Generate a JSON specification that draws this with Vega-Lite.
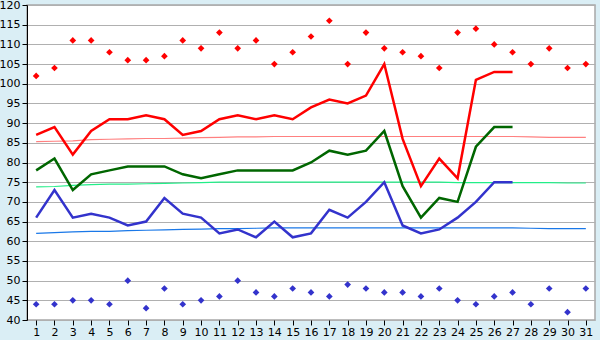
{
  "$schema": "https://vega.github.io/schema/vega-lite/v6.json",
  "width": 568,
  "height": 315,
  "autosize": "none",
  "padding": {"left": 27, "top": 5, "right": 5, "bottom": 20},
  "background": "#DAEEF5",
  "view": {"fill": "white", "stroke": "#A8A8A8", "strokeWidth": 1.5},
  "config": {
    "axis": {"labelFont": "DejaVu Sans", "labelFontSize": 11, "labelColor": "#000000", "domainColor": "#000000", "tickColor": "#000000", "title": null},
    "axisY": {"grid": true, "gridColor": "#B0B0B0", "gridWidth": 1.2, "tickSize": 5, "labelPadding": 2, "labelOverlap": false}
  },
  "data": {"values": [
    {"day": 1, "hi": 87, "avg": 78, "lo": 66, "nhi": 85.3, "navg": 73.8, "nlo": 62.0, "rhi": 102, "rlo": 44},
    {"day": 2, "hi": 89, "avg": 81, "lo": 73, "nhi": 85.4, "navg": 73.9, "nlo": 62.2, "rhi": 104, "rlo": 44},
    {"day": 3, "hi": 82, "avg": 73, "lo": 66, "nhi": 85.5, "navg": 74.2, "nlo": 62.4, "rhi": 111, "rlo": 45},
    {"day": 4, "hi": 88, "avg": 77, "lo": 67, "nhi": 85.8, "navg": 74.4, "nlo": 62.5, "rhi": 111, "rlo": 45},
    {"day": 5, "hi": 91, "avg": 78, "lo": 66, "nhi": 85.9, "navg": 74.5, "nlo": 62.5, "rhi": 108, "rlo": 44},
    {"day": 6, "hi": 91, "avg": 79, "lo": 64, "nhi": 86.0, "navg": 74.5, "nlo": 62.7, "rhi": 106, "rlo": 50},
    {"day": 7, "hi": 92, "avg": 79, "lo": 65, "nhi": 86.1, "navg": 74.6, "nlo": 62.8, "rhi": 106, "rlo": 43},
    {"day": 8, "hi": 91, "avg": 79, "lo": 71, "nhi": 86.1, "navg": 74.7, "nlo": 62.9, "rhi": 107, "rlo": 48},
    {"day": 9, "hi": 87, "avg": 77, "lo": 67, "nhi": 86.2, "navg": 74.8, "nlo": 63.0, "rhi": 111, "rlo": 44},
    {"day": 10, "hi": 88, "avg": 76, "lo": 66, "nhi": 86.3, "navg": 74.9, "nlo": 63.1, "rhi": 109, "rlo": 45},
    {"day": 11, "hi": 91, "avg": 77, "lo": 62, "nhi": 86.4, "navg": 75.0, "nlo": 63.2, "rhi": 113, "rlo": 46},
    {"day": 12, "hi": 92, "avg": 78, "lo": 63, "nhi": 86.5, "navg": 75.0, "nlo": 63.2, "rhi": 109, "rlo": 50},
    {"day": 13, "hi": 91, "avg": 78, "lo": 61, "nhi": 86.5, "navg": 75.0, "nlo": 63.3, "rhi": 111, "rlo": 47},
    {"day": 14, "hi": 92, "avg": 78, "lo": 65, "nhi": 86.6, "navg": 75.0, "nlo": 63.4, "rhi": 105, "rlo": 46},
    {"day": 15, "hi": 91, "avg": 78, "lo": 61, "nhi": 86.6, "navg": 75.0, "nlo": 63.4, "rhi": 108, "rlo": 48},
    {"day": 16, "hi": 94, "avg": 80, "lo": 62, "nhi": 86.6, "navg": 75.0, "nlo": 63.4, "rhi": 112, "rlo": 47},
    {"day": 17, "hi": 96, "avg": 83, "lo": 68, "nhi": 86.6, "navg": 75.0, "nlo": 63.4, "rhi": 116, "rlo": 46},
    {"day": 18, "hi": 95, "avg": 82, "lo": 66, "nhi": 86.6, "navg": 75.0, "nlo": 63.4, "rhi": 105, "rlo": 49},
    {"day": 19, "hi": 97, "avg": 83, "lo": 70, "nhi": 86.6, "navg": 75.0, "nlo": 63.4, "rhi": 113, "rlo": 48},
    {"day": 20, "hi": 105, "avg": 88, "lo": 75, "nhi": 86.6, "navg": 75.0, "nlo": 63.4, "rhi": 109, "rlo": 47},
    {"day": 21, "hi": 86, "avg": 74, "lo": 64, "nhi": 86.6, "navg": 75.0, "nlo": 63.4, "rhi": 108, "rlo": 47},
    {"day": 22, "hi": 74, "avg": 66, "lo": 62, "nhi": 86.6, "navg": 75.0, "nlo": 63.4, "rhi": 107, "rlo": 46},
    {"day": 23, "hi": 81, "avg": 71, "lo": 63, "nhi": 86.6, "navg": 75.0, "nlo": 63.4, "rhi": 104, "rlo": 48},
    {"day": 24, "hi": 76, "avg": 70, "lo": 66, "nhi": 86.6, "navg": 74.9, "nlo": 63.4, "rhi": 113, "rlo": 45},
    {"day": 25, "hi": 101, "avg": 84, "lo": 70, "nhi": 86.6, "navg": 74.9, "nlo": 63.4, "rhi": 114, "rlo": 44},
    {"day": 26, "hi": 103, "avg": 89, "lo": 75, "nhi": 86.6, "navg": 74.9, "nlo": 63.4, "rhi": 110, "rlo": 46},
    {"day": 27, "hi": 103, "avg": 89, "lo": 75, "nhi": 86.6, "navg": 74.9, "nlo": 63.4, "rhi": 108, "rlo": 47},
    {"day": 28, "hi": null, "avg": null, "lo": null, "nhi": 86.5, "navg": 74.9, "nlo": 63.3, "rhi": 105, "rlo": 44},
    {"day": 29, "hi": null, "avg": null, "lo": null, "nhi": 86.4, "navg": 74.9, "nlo": 63.2, "rhi": 109, "rlo": 48},
    {"day": 30, "hi": null, "avg": null, "lo": null, "nhi": 86.4, "navg": 74.8, "nlo": 63.2, "rhi": 104, "rlo": 42},
    {"day": 31, "hi": null, "avg": null, "lo": null, "nhi": 86.4, "navg": 74.8, "nlo": 63.2, "rhi": 105, "rlo": 48}
  ]},
  "encoding": {
    "x": {"field": "day", "type": "ordinal", "scale": {"type": "point", "padding": 0.5},
      "axis": {"labelAngle": 0, "grid": false, "tickSize": 5, "labelPadding": 1, "domain": false}}
  },
  "layer": [
    {"mark": {"type": "line", "color": "#FF8080", "strokeWidth": 1.2},
     "encoding": {"y": {"field": "nhi", "type": "quantitative", "scale": {"domain": [40, 120], "nice": false, "zero": false},
       "axis": {"values": [40,45,50,55,60,65,70,75,80,85,90,95,100,105,110,115,120]}}}},
    {"mark": {"type": "line", "color": "#22EE88", "strokeWidth": 1.2},
     "encoding": {"y": {"field": "navg", "type": "quantitative", "axis": {"values": [40,45,50,55,60,65,70,75,80,85,90,95,100,105,110,115,120]}}}},
    {"mark": {"type": "line", "color": "#1A78E8", "strokeWidth": 1.2},
     "encoding": {"y": {"field": "nlo", "type": "quantitative", "axis": {"values": [40,45,50,55,60,65,70,75,80,85,90,95,100,105,110,115,120]}}}},
    {"mark": {"type": "line", "color": "#FF0000", "strokeWidth": 2.5},
     "encoding": {"y": {"field": "hi", "type": "quantitative", "axis": {"values": [40,45,50,55,60,65,70,75,80,85,90,95,100,105,110,115,120]}}}},
    {"mark": {"type": "line", "color": "#006600", "strokeWidth": 2.5},
     "encoding": {"y": {"field": "avg", "type": "quantitative", "axis": {"values": [40,45,50,55,60,65,70,75,80,85,90,95,100,105,110,115,120]}}}},
    {"mark": {"type": "line", "color": "#3333CC", "strokeWidth": 2.5},
     "encoding": {"y": {"field": "lo", "type": "quantitative", "axis": {"values": [40,45,50,55,60,65,70,75,80,85,90,95,100,105,110,115,120]}}}},
    {"mark": {"type": "point", "shape": "diamond", "filled": true, "color": "#FF0000", "size": 45, "opacity": 1},
     "encoding": {"y": {"field": "rhi", "type": "quantitative", "axis": {"values": [40,45,50,55,60,65,70,75,80,85,90,95,100,105,110,115,120]}}}},
    {"mark": {"type": "point", "shape": "diamond", "filled": true, "color": "#3333CC", "size": 45, "opacity": 1},
     "encoding": {"y": {"field": "rlo", "type": "quantitative", "axis": {"values": [40,45,50,55,60,65,70,75,80,85,90,95,100,105,110,115,120]}}}}
  ]
}
